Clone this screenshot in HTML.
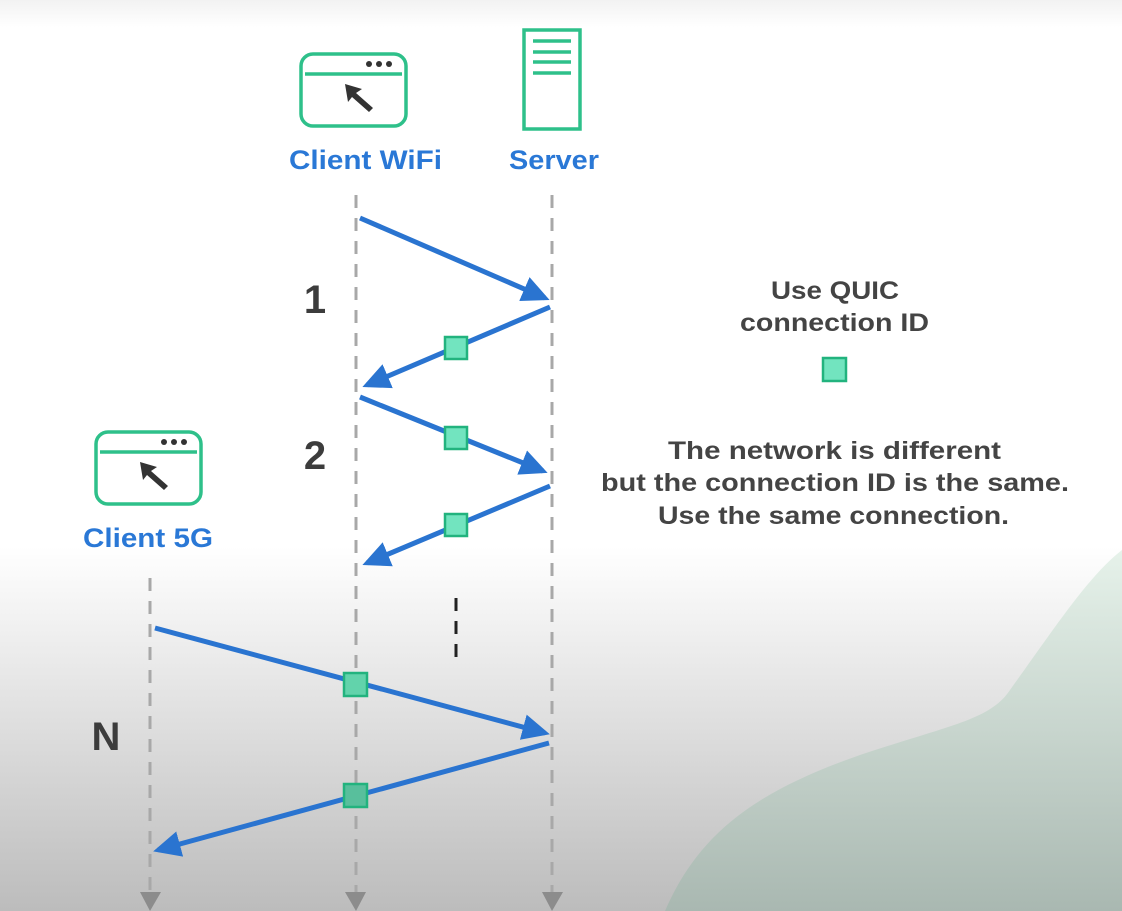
<!DOCTYPE html>
<html><head><meta charset="utf-8"><style>
html,body{margin:0;padding:0;width:1122px;height:911px;overflow:hidden}
svg{display:block}
text{font-family:"Liberation Sans",sans-serif;font-weight:bold}
</style></head><body>
<svg width="1122" height="911" viewBox="0 0 1122 911">
<defs>
<linearGradient id="bg" x1="0" y1="0" x2="0" y2="1">
<stop offset="0" stop-color="#f2f2f2"/>
<stop offset="0.03" stop-color="#ffffff"/>
<stop offset="0.6" stop-color="#ffffff"/>
<stop offset="1" stop-color="#bcbcbc"/>
</linearGradient>
<linearGradient id="gr" x1="0" y1="0" x2="0" y2="1">
<stop offset="0" stop-color="#e6f2ea"/>
<stop offset="1" stop-color="#a9b8b1"/>
</linearGradient>
<marker id="ah" markerWidth="6" markerHeight="6" refX="4.5" refY="3" orient="auto" markerUnits="strokeWidth">
<path d="M0,0.4 L5.5,3 L0,5.6 z" fill="#2a74d0"/>
</marker>
</defs>
<rect width="1122" height="911" fill="url(#bg)"/>
<path d="M665,911 C700,830 760,790 860,755 C950,725 990,720 1010,690 C1060,620 1090,575 1122,550 L1122,911 Z" fill="url(#gr)"/>

<g stroke="#a8a8a8" stroke-width="3" stroke-dasharray="13 10">
<line x1="150" y1="578" x2="150" y2="895"/>
<line x1="356" y1="195" x2="356" y2="895"/>
<line x1="552" y1="195" x2="552" y2="895"/>
</g>
<g fill="#8c8c8c">
<path d="M140,892 L161,892 L150,911 Z"/>
<path d="M345,892 L366,892 L356,911 Z"/>
<path d="M542,892 L563,892 L552,911 Z"/>
</g>
<line x1="456" y1="598" x2="456" y2="660" stroke="#222" stroke-width="3" stroke-dasharray="13 10"/>

<g stroke="#2a74d0" stroke-width="5" fill="none" marker-end="url(#ah)">
<line x1="360" y1="218" x2="545" y2="298"/>
<line x1="550" y1="307" x2="367" y2="385"/>
<line x1="360" y1="397" x2="543" y2="471"/>
<line x1="550" y1="486" x2="367" y2="563"/>
<line x1="155" y1="628" x2="545" y2="733"/>
<line x1="549" y1="743" x2="158" y2="850"/>
</g>
<g stroke="#22b37e" stroke-width="2.5">
<rect x="445" y="337" width="22" height="22" fill="#72e4bf"/>
<rect x="445" y="427" width="22" height="22" fill="#72e4bf"/>
<rect x="445" y="514" width="22" height="22" fill="#72e4bf"/>
<rect x="344" y="673" width="23" height="23" fill="#62d3ab"/>
<rect x="344" y="784" width="23" height="23" fill="#58bf9c"/>
<rect x="823" y="358" width="23" height="23" fill="#72e4bf"/>
</g>

<g fill="none" stroke="#2ec08a" stroke-width="3.5">
<rect x="301" y="54" width="105" height="72" rx="12"/>
<line x1="305" y1="74" x2="402" y2="74"/>
<rect x="96" y="432" width="105" height="72" rx="12"/>
<line x1="100" y1="452" x2="197" y2="452"/>
<rect x="524" y="30" width="56" height="99"/>
<line x1="533" y1="41" x2="571" y2="41"/>
<line x1="533" y1="52" x2="571" y2="52"/>
<line x1="533" y1="62" x2="571" y2="62"/>
<line x1="533" y1="73" x2="571" y2="73"/>
</g>
<g fill="#333">
<circle cx="369" cy="64" r="3"/><circle cx="379" cy="64" r="3"/><circle cx="389" cy="64" r="3"/>
<circle cx="164" cy="442" r="3"/><circle cx="174" cy="442" r="3"/><circle cx="184" cy="442" r="3"/>
<path d="M345,84 L362,89 L356,93 L373,108 L369,112 L352,97 L348,102 Z"/>
<path d="M140,462 L157,467 L151,471 L168,486 L164,490 L147,475 L143,480 Z"/>
</g>

<g fill="#2a78d6" font-size="27" lengthAdjust="spacingAndGlyphs">
<text x="289" y="169" textLength="153" lengthAdjust="spacingAndGlyphs">Client WiFi</text>
<text x="509" y="169" textLength="90" lengthAdjust="spacingAndGlyphs">Server</text>
<text x="83" y="547" textLength="130" lengthAdjust="spacingAndGlyphs">Client 5G</text>
</g>
<g fill="#3c3c3c" font-size="40" text-anchor="middle">
<text x="315" y="313">1</text>
<text x="315" y="469">2</text>
<text x="106" y="750">N</text>
</g>
<g fill="#444" font-size="25">
<text x="771" y="299" textLength="128" lengthAdjust="spacingAndGlyphs">Use QUIC</text>
<text x="740" y="331" textLength="189" lengthAdjust="spacingAndGlyphs">connection ID</text>
<text x="668" y="459" textLength="333" lengthAdjust="spacingAndGlyphs">The network is different</text>
<text x="601" y="491" textLength="468" lengthAdjust="spacingAndGlyphs">but the connection ID is the same.</text>
<text x="658" y="524" textLength="351" lengthAdjust="spacingAndGlyphs">Use the same connection.</text>
</g>
</svg>
</body></html>
